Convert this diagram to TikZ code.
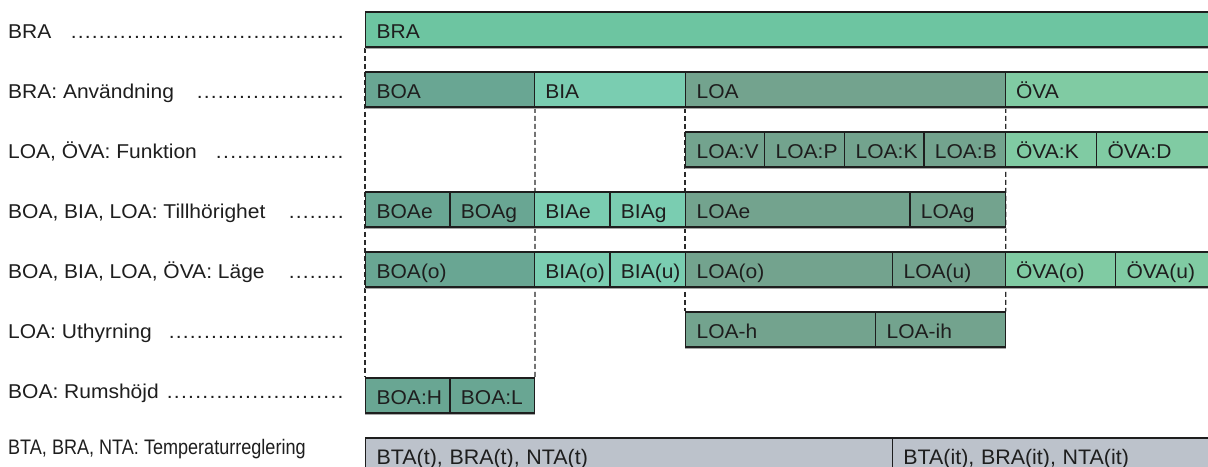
\documentclass[tikz,border=0pt]{standalone}
\usepackage{fontspec}
\setmainfont{Liberation Sans}[FakeStretch=1.05]
\newfontfamily\narrowlbl{Liberation Sans}[FakeStretch=0.86]
\newfontfamily\narrowbox{Liberation Sans}[FakeStretch=1.02]
\usetikzlibrary{backgrounds}
\definecolor{cBRA}{HTML}{6DC5A1}
\definecolor{cBOA}{HTML}{69A693}
\definecolor{cBIA}{HTML}{7ACDB1}
\definecolor{cLOA}{HTML}{73A38E}
\definecolor{cOVA}{HTML}{80CBA3}
\definecolor{cGRY}{HTML}{BCC2CB}
\definecolor{cEdge}{HTML}{1E1E1E}
\definecolor{cText}{HTML}{1E1E1E}
\definecolor{cDash}{HTML}{2A2A2A}
\definecolor{cShade}{HTML}{A8A8A8}
\tikzset{
  cell/.style={draw=cEdge, line width=1.3bp, rectangle, anchor=north west,
    minimum height=35bp, inner xsep=0pt, inner ysep=0pt,
    text height=18.4bp, text depth=0pt, align=left, text=cText,
    font=\fontsize{20bp}{24bp}\selectfont,
    preaction={draw=cShade, line width=1.3bp, transform canvas={yshift=-1.3bp}}},
  lbl/.style={anchor=base west, inner sep=0pt, text=cText,
    font=\fontsize{20bp}{24bp}\selectfont},
  guide/.style={draw=cDash, line width=1.3bp, dash pattern=on 5bp off 3bp},
}
\newcommand\cellbox[6]{%
  \pgfmathsetmacro\cw{#3-#2}%
  \node[cell,fill=#5,text width=\cw bp] (#1) at (#2,#4) {\hspace*{11bp}#6};}
\newcommand\rowlbl[4]{%
  \node[lbl] (#1) at (8,#2) {#3};
  \pgfmathsetmacro\dw{344-#4}%
  \node[lbl] (#1d) at (#4,#2) {\hbox to \dw bp{\xleaders\hbox to 7bp{\hss.\hss}\hfill}};}
\begin{document}
\begin{tikzpicture}[x=1bp,y=-1bp]
\clip (0,0) rectangle (1208,467);
% left labels
\rowlbl{l1}{38.3}{BRA}{70}
\rowlbl{l2}{98.3}{BRA: Användning}{196}
\rowlbl{l3}{158.3}{LOA, ÖVA: Funktion}{215}
\rowlbl{l4}{218.3}{BOA, BIA, LOA: Tillhörighet}{288}
\rowlbl{l5}{278.3}{BOA, BIA, LOA, ÖVA: Läge}{288}
\rowlbl{l6}{338.3}{LOA: Uthyrning}{168}
\rowlbl{l7}{398.3}{BOA: Rumshöjd}{166}
\node[lbl, font=\fontsize{21bp}{24bp}\narrowlbl] (l8) at (8,455) {BTA, BRA, NTA: Temperaturreglering};
% row 1
\cellbox{bra}{365}{1215}{11.5}{cBRA}{BRA}
% row 2
\cellbox{boa}{365}{533.7}{71.5}{cBOA}{BOA}
\cellbox{bia}{533.7}{685}{71.5}{cBIA}{BIA}
\cellbox{loa}{685}{1004.5}{71.5}{cLOA}{LOA}
\cellbox{ova}{1004.5}{1215}{71.5}{cOVA}{ÖVA}
% row 3
\cellbox{loav}{685}{764}{131.5}{cLOA}{LOA:V}
\cellbox{loap}{764}{844}{131.5}{cLOA}{LOA:P}
\cellbox{loak}{844}{923.3}{131.5}{cLOA}{LOA:K}
\cellbox{loab}{923.3}{1004.5}{131.5}{cLOA}{LOA:B}
\cellbox{ovak}{1004.5}{1096}{131.5}{cOVA}{ÖVA:K}
\cellbox{ovad}{1096}{1215}{131.5}{cOVA}{ÖVA:D}
% row 4
\cellbox{boae}{365}{449.3}{191.5}{cBOA}{BOAe}
\cellbox{boag}{449.3}{533.7}{191.5}{cBOA}{BOAg}
\cellbox{biae}{533.7}{609.3}{191.5}{cBIA}{BIAe}
\cellbox{biag}{609.3}{685}{191.5}{cBIA}{BIAg}
\cellbox{loae}{685}{909.3}{191.5}{cLOA}{LOAe}
\cellbox{loag}{909.3}{1004.5}{191.5}{cLOA}{LOAg}
% row 5
\cellbox{boao}{365}{533.7}{251.5}{cBOA}{BOA(o)}
\cellbox{biao}{533.7}{609.3}{251.5}{cBIA}{BIA(o)}
\cellbox{biau}{609.3}{685}{251.5}{cBIA}{BIA(u)}
\cellbox{loao}{685}{892}{251.5}{cLOA}{LOA(o)}
\cellbox{loau}{892}{1004.5}{251.5}{cLOA}{LOA(u)}
\cellbox{ovao}{1004.5}{1115}{251.5}{cOVA}{ÖVA(o)}
\cellbox{ovau}{1115}{1215}{251.5}{cOVA}{ÖVA(u)}
% row 6
\cellbox{loah}{685}{875}{311.5}{cLOA}{LOA-h}
\cellbox{loaih}{875}{1004.5}{311.5}{cLOA}{LOA-ih}
% row 7
\cellbox{boah}{365}{449.3}{377.5}{cBOA}{BOA:H}
\cellbox{boal}{449.3}{533.7}{377.5}{cBOA}{BOA:L}
% row 8
\cellbox{tr1}{365}{891.7}{437.5}{cGRY}{\fontsize{21bp}{24bp}\narrowbox BTA(t), BRA(t), NTA(t)}
\cellbox{tr2}{891.7}{1215}{437.5}{cGRY}{\fontsize{21bp}{24bp}\narrowbox BTA(it), BRA(it), NTA(it)}
% dashed guides
\begin{pgfonlayer}{background}
\fill[white] (0,0) rectangle (1208,467);
\draw[guide] (bra.south west) -- (boah.north west);
\draw[guide] (boa.south east) -- (boal.north east);
\draw[guide] (loa.south west) -- (loah.north west);
\draw[guide] (loa.south east) -- (loaih.north east);
\end{pgfonlayer}
\end{tikzpicture}
\end{document}
